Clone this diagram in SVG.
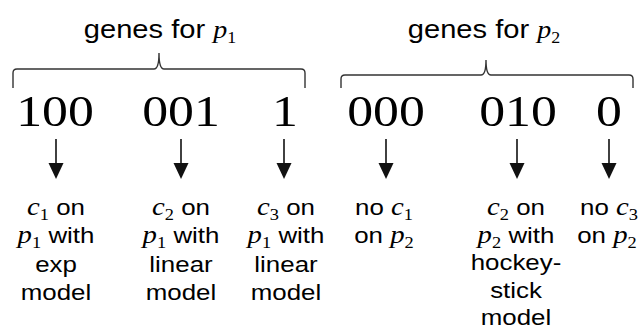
<svg xmlns="http://www.w3.org/2000/svg" width="638" height="327" viewBox="0 0 638 327">
<style>
  text { fill: #000; text-anchor: middle; }
  .t { font-family: "Liberation Sans", Arial, sans-serif; font-size: 22.5px; }
  .h { font-family: "Liberation Sans", Arial, sans-serif; font-size: 26px; }
  .m { font-family: "Liberation Serif", "DejaVu Serif", serif; font-style: italic; font-size: 25px; }
  .s { font-family: "Liberation Serif", "DejaVu Serif", serif; font-size: 16px; }
  .d { font-family: "Liberation Serif", "DejaVu Serif", serif; font-size: 45px; }
  .brace { fill: none; stroke: #333; stroke-width: 1.4; }
  .ln { stroke: #111; stroke-width: 1.6; }
  .hd { fill: #111; }
</style>
<defs>
  <g id="arrow">
    <line class="ln" x1="0" y1="139" x2="0" y2="165"/>
    <polygon class="hd" points="-7.5,163 7.5,163 0,179"/>
  </g>
</defs>

<g id="title-p1">
  <text class="h" y="38" transform="translate(160,0) scale(1.12,1)">genes for <tspan class="m" font-size="27px">p</tspan><tspan class="s" font-size="18px" dy="5">1</tspan></text>
</g>
<g id="title-p2">
  <text class="h" y="38" transform="translate(484,0) scale(1.12,1)">genes for <tspan class="m" font-size="27px">p</tspan><tspan class="s" font-size="18px" dy="5">2</tspan></text>
</g>

<g id="braces">
  <path class="brace" d="M13,88 V73 Q13,69 17,69 H154 Q159,69 159,53 Q159,69 164,69 H301 Q305,69 305,73 V88"/>
  <path class="brace" d="M341,88 V79 Q341,75 345,75 H481 Q486,75 486,60 Q486,75 491,75 H629 Q633,75 633,79 V88"/>
</g>

<g id="gene-100"><text class="d" y="126" transform="translate(55,0) scale(1.15,1)">100</text></g>
<g id="gene-001"><text class="d" y="126" transform="translate(181,0) scale(1.15,1)">001</text></g>
<g id="gene-1"><text class="d" y="126" transform="translate(285,0) scale(1.15,1)">1</text></g>
<g id="gene-000"><text class="d" y="126" transform="translate(386,0) scale(1.15,1)">000</text></g>
<g id="gene-010"><text class="d" y="126" transform="translate(518,0) scale(1.15,1)">010</text></g>
<g id="gene-0"><text class="d" y="126" transform="translate(609,0) scale(1.15,1)">0</text></g>

<g id="connectors">
  <use href="#arrow" x="56"/>
  <use href="#arrow" x="181"/>
  <use href="#arrow" x="284"/>
  <use href="#arrow" x="386"/>
  <use href="#arrow" x="517"/>
  <use href="#arrow" x="609"/>
</g>

<g id="label-c1-p1">
  <text class="t" y="215" transform="translate(56,0) scale(1.15,1)"><tspan class="m">c</tspan><tspan class="s" dy="5">1</tspan><tspan dy="-5"> on</tspan></text>
  <text class="t" y="243" transform="translate(56,0) scale(1.15,1)"><tspan class="m">p</tspan><tspan class="s" dy="5">1</tspan><tspan dy="-5"> with</tspan></text>
  <text class="t" y="272" transform="translate(56,0) scale(1.15,1)">exp</text>
  <text class="t" y="300" transform="translate(56,0) scale(1.15,1)">model</text>
</g>
<g id="label-c2-p1">
  <text class="t" y="215" transform="translate(181,0) scale(1.15,1)"><tspan class="m">c</tspan><tspan class="s" dy="5">2</tspan><tspan dy="-5"> on</tspan></text>
  <text class="t" y="243" transform="translate(181,0) scale(1.15,1)"><tspan class="m">p</tspan><tspan class="s" dy="5">1</tspan><tspan dy="-5"> with</tspan></text>
  <text class="t" y="272" transform="translate(181,0) scale(1.15,1)">linear</text>
  <text class="t" y="300" transform="translate(181,0) scale(1.15,1)">model</text>
</g>
<g id="label-c3-p1">
  <text class="t" y="215" transform="translate(286,0) scale(1.15,1)"><tspan class="m">c</tspan><tspan class="s" dy="5">3</tspan><tspan dy="-5"> on</tspan></text>
  <text class="t" y="243" transform="translate(286,0) scale(1.15,1)"><tspan class="m">p</tspan><tspan class="s" dy="5">1</tspan><tspan dy="-5"> with</tspan></text>
  <text class="t" y="272" transform="translate(286,0) scale(1.15,1)">linear</text>
  <text class="t" y="300" transform="translate(286,0) scale(1.15,1)">model</text>
</g>
<g id="label-no-c1-p2">
  <text class="t" y="215" transform="translate(384,0) scale(1.15,1)">no <tspan class="m">c</tspan><tspan class="s" dy="5">1</tspan></text>
  <text class="t" y="243" transform="translate(384,0) scale(1.15,1)">on <tspan class="m">p</tspan><tspan class="s" dy="5">2</tspan></text>
</g>
<g id="label-c2-p2">
  <text class="t" y="215" transform="translate(516,0) scale(1.15,1)"><tspan class="m">c</tspan><tspan class="s" dy="5">2</tspan><tspan dy="-5"> on</tspan></text>
  <text class="t" y="243" transform="translate(516,0) scale(1.15,1)"><tspan class="m">p</tspan><tspan class="s" dy="5">2</tspan><tspan dy="-5"> with</tspan></text>
  <text class="t" y="270" transform="translate(516,0) scale(1.15,1)">hockey-</text>
  <text class="t" y="298" transform="translate(516,0) scale(1.15,1)">stick</text>
  <text class="t" y="325" transform="translate(516,0) scale(1.15,1)">model</text>
</g>
<g id="label-no-c3-p2">
  <text class="t" y="215" transform="translate(609,0) scale(1.15,1)">no <tspan class="m">c</tspan><tspan class="s" dy="5">3</tspan></text>
  <text class="t" y="243" transform="translate(607,0) scale(1.15,1)">on <tspan class="m">p</tspan><tspan class="s" dy="5">2</tspan></text>
</g>
</svg>
